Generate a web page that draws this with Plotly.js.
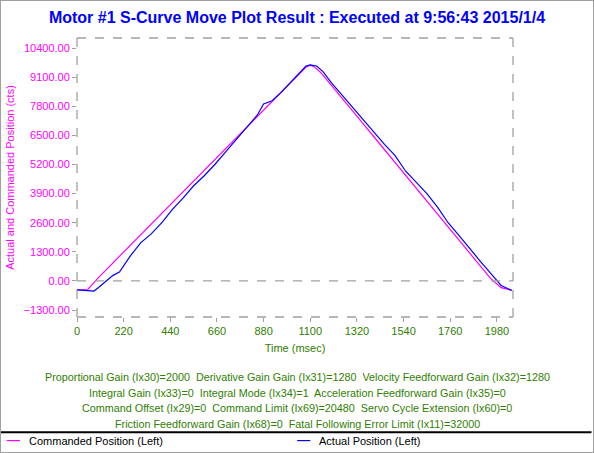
<!DOCTYPE html>
<html>
<head>
<meta charset="utf-8">
<script src="https://cdn.plot.ly/plotly-3.0.1.min.js"></script>
<style>
  body { margin: 0; }
  #chart { width: 592px; height: 451px; border: 1px solid #a0a0a0; }
</style>
</head>
<body>
<div id="chart"></div>
<script>
var cmdTime = [0, 50, 100, 150, 200, 250, 300, 350, 400, 450, 500, 550, 600, 650, 700, 750, 800, 850, 900, 950, 1000, 1050, 1080, 1100, 1120, 1150, 1200, 1250, 1300, 1350, 1400, 1450, 1500, 1550, 1600, 1650, 1700, 1750, 1800, 1850, 1900, 1950, 2000, 2050];
var cmdPos = [-400, -390, 140, 620, 1100, 1580, 2060, 2540, 3020, 3500, 3980, 4460, 4940, 5420, 5900, 6380, 6860, 7340, 7820, 8300, 8780, 9260, 9550, 9640, 9560, 9300, 8740, 8165, 7590, 7015, 6440, 5865, 5290, 4715, 4140, 3565, 2990, 2415, 1840, 1265, 690, 115, -300, -420];

var actTime = [0, 50, 80, 100, 150, 170, 200, 250, 300, 350, 400, 450, 500, 550, 600, 650, 700, 750, 800, 850, 880, 920, 960, 1000, 1050, 1080, 1100, 1130, 1160, 1200, 1250, 1300, 1350, 1400, 1450, 1500, 1550, 1600, 1650, 1700, 1750, 1800, 1850, 1900, 1950, 2000, 2050];
var actPos = [-400, -420, -450, -300, 100, 250, 400, 1100, 1700, 2100, 2600, 3200, 3700, 4250, 4700, 5200, 5750, 6300, 6800, 7400, 7900, 8050, 8400, 8800, 9300, 9600, 9650, 9600, 9350, 8850, 8300, 7750, 7200, 6600, 6100, 5600, 4900, 4400, 3900, 3300, 2600, 2050, 1500, 900, 350, -200, -420];

var infoLines = [
  'Proportional Gain (Ix30)=2000  Derivative Gain Gain (Ix31)=1280  Velocity Feedforward Gain (Ix32)=1280',
  'Integral Gain (Ix33)=0  Integral Mode (Ix34)=1  Acceleration Feedforward Gain (Ix35)=0',
  'Command Offset (Ix29)=0  Command Limit (Ix69)=20480  Servo Cycle Extension (Ix60)=0',
  'Friction Feedforward Gain (Ix68)=0  Fatal Following Error Limit (Ix11)=32000'
];
var legendNames = ['Commanded Position (Left)', 'Actual Position (Left)'];
var legendColors = ['#ff00ff', '#0000ff'];
var legendX = [-0.161, 0.505];

var green = '#2f8000';
var grey = '#a0a0a0';
var dashBox = { type: 'line', line: { color: grey, width: 1.3, dash: 'dash' } };

var traces = [
  { x: cmdTime, y: cmdPos, type: 'scatter', mode: 'lines', name: legendNames[0],
    line: { color: legendColors[0], width: 1.2 } },
  { x: actTime, y: actPos, type: 'scatter', mode: 'lines', name: legendNames[1],
    line: { color: legendColors[1], width: 1.2 } }
];

var annotations = infoLines.map(function(t, i) {
  return { text: t, xref: 'paper', yref: 'paper', x: 0.505, y: -0.215 - i * 0.056,
    xanchor: 'center', yanchor: 'middle', showarrow: false, font: { color: green, size: 10.8 } };
});
var shapes = [
  Object.assign({ xref: 'paper', yref: 'paper', x0: 0, x1: 1, y0: 1, y1: 1 }, dashBox),
  Object.assign({ xref: 'paper', yref: 'paper', x0: 0, x1: 1, y0: 0, y1: 0 }, dashBox),
  Object.assign({ xref: 'paper', yref: 'paper', x0: 0, x1: 0, y0: 0, y1: 1 }, dashBox),
  Object.assign({ xref: 'paper', yref: 'paper', x0: 1, x1: 1, y0: 0, y1: 1 }, dashBox),
  Object.assign({ xref: 'paper', yref: 'y', x0: 0, x1: 1, y0: 0, y1: 0 }, dashBox),
  { type: 'line', xref: 'paper', yref: 'paper', x0: -0.175, x1: 1.18, y0: -0.413, y1: -0.413,
    line: { color: '#000000', width: 2 } }
];
legendNames.forEach(function(n, i) {
  shapes.push({ type: 'line', xref: 'paper', yref: 'paper', x0: legendX[i], x1: legendX[i] + 0.03,
    y0: -0.443, y1: -0.443, line: { color: legendColors[i], width: 1.2 } });
  annotations.push({ text: n, xref: 'paper', yref: 'paper', x: legendX[i] + 0.046, y: -0.443,
    xanchor: 'left', yanchor: 'middle', showarrow: false, font: { color: '#000000', size: 11 } });
});

var layout = {
  width: 592, height: 451,
  margin: { l: 76, r: 80, t: 37, b: 135 },
  font: { family: 'Liberation Sans, Arial, sans-serif', size: 11 },
  title: { text: 'Motor #1 S-Curve Move Plot Result : Executed at 9:56:43 2015/1/4',
    font: { color: '#0000ff', size: 16, weight: 'bold' }, x: 0.5, y: 0.975 },
  xaxis: { range: [0, 2056], dtick: 220, tick0: 0, showgrid: false, zeroline: false,
    ticks: 'outside', ticklen: 4, tickcolor: grey, tickfont: { color: green, size: 11 },
    title: { text: 'Time (msec)', font: { color: green, size: 11 }, standoff: 8 } },
  yaxis: { range: [-1610, 10850], dtick: 1300, tick0: 0, tickformat: '.2f', showgrid: false, zeroline: false,
    ticks: 'outside', ticklen: 4, tickcolor: grey, tickfont: { color: '#ff00ff', size: 11 },
    title: { text: 'Actual and Commanded Position (cts)', font: { color: '#ff00ff', size: 11 }, standoff: 6 } },
  showlegend: false,
  annotations: annotations,
  shapes: shapes,
  paper_bgcolor: '#ffffff', plot_bgcolor: '#ffffff'
};

Plotly.newPlot('chart', traces, layout, { displayModeBar: false, staticPlot: true });
</script>
</body>
</html>
